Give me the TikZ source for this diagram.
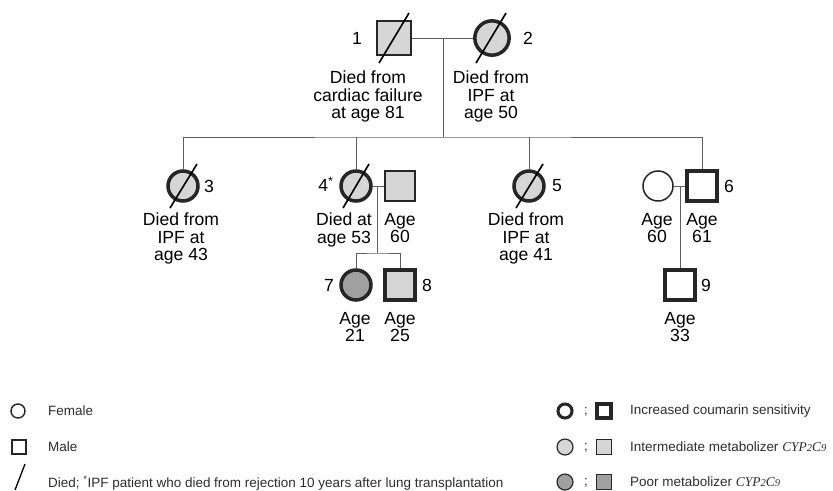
\documentclass[tikz,border=0pt]{standalone}
\usepackage{fontspec}
\setmainfont{Liberation Sans}
\newfontfamily\cypfont{Liberation Serif}
\definecolor{midgray}{RGB}{214,214,214}
\definecolor{poorgray}{RGB}{160,160,160}
\definecolor{relgray}{RGB}{95,95,95}
\definecolor{keygray}{RGB}{45,45,45}
\newcommand\cyp{{\cypfont\itshape CYP{\fontsize{9}{10}\selectfont 2}C{\fontsize{9}{10}\selectfont 9}}}
\begin{document}
\begin{tikzpicture}[x=0.03cm, y=-0.03cm,
    pers/.style={draw=black!85, line width=1.3pt, inner sep=0pt, minimum size=0.9cm},
    male/.style={pers, rectangle},
    female/.style={pers, circle},
    top/.style={minimum size=1.03cm},
    sens/.style={line width=3pt},
    mid/.style={fill=midgray},
    poor/.style={fill=poorgray},
    dead/.style={line width=1.4pt},
    rel/.style={draw=relgray, line width=0.6pt},
    num/.style={inner sep=0pt, font=\fontsize{15}{15}\selectfont},
    info/.style={align=center, anchor=north, inner sep=0pt, font=\fontsize{15}{14.8}\selectfont},
    key/.style={anchor=west, inner sep=0pt, text=keygray, font=\fontsize{11.5}{12}\selectfont}]

    \useasboundingbox (0,0) rectangle (833,490);

    % Generation I
    \node[male, top, mid] (n1) at (394,38) {};
    \node[female, top, mid, sens] (n2) at (492,38) {};
    \node[num] (l1) at (357,38) {1};
    \node[num] (l2) at (528,38) {2};
    \draw[dead] ([shift={(-15,25)}]n1.center) -- ([shift={(15,-25)}]n1.center);
    \draw[dead] ([shift={(-16,25)}]n2.center) -- ([shift={(14,-25)}]n2.center);
    \node[info] (t1) at (368,71) {Died from\\cardiac failure\\at age 81};
    \node[info] (t2) at (491,71) {Died from\\IPF at\\age 50};

    \coordinate (m12) at (443,38);
    \coordinate (s12) at (443,137);
    \draw[rel] (n1) -- (n2);
    \draw[rel] (m12) -- (s12);

    % Generation II
    \node[female, mid, sens] (n3) at (183,186) {};
    \node[female, mid, sens] (n4) at (356,186) {};
    \node[male, mid] (n4s) at (400,186) {};
    \node[female, mid, sens] (n5) at (529,186) {};
    \node[female] (n6s) at (658,186) {};
    \node[male, sens] (n6) at (702,186) {};
    \node[num] (l3) at (209,186) {3};
    \node[num] (l4) at (326,184) {4\textsuperscript{*}};
    \node[num] (l5) at (557,186) {5};
    \node[num] (l6) at (729,186) {6};
    \draw[dead] ([shift={(-13,22)}]n3.center) -- ([shift={(14,-22)}]n3.center);
    \draw[dead] ([shift={(-13,22)}]n4.center) -- ([shift={(13,-22)}]n4.center);
    \draw[dead] ([shift={(-13,22)}]n5.center) -- ([shift={(14,-22)}]n5.center);
    \node[info] (t3) at (181,213) {Died from\\IPF at\\age 43};
    \node[info] (t4) at (344,213) {Died at\\age 53};
    \node[info] (t4s) at (400,213) {Age\\60};
    \node[info] (t5) at (526,213) {Died from\\IPF at\\age 41};
    \node[info] (t6s) at (657,213) {Age\\60};
    \node[info] (t6) at (702,213) {Age\\61};

    \draw[rel] (n3.north) |- (s12) -| (n6.north);
    \draw[rel] (n4.north) -- (n4.north |- s12);
    \draw[rel] (n5.north) -- (n5.north |- s12);

    % Generation III
    \node[female, poor, sens] (n7) at (356,285) {};
    \node[male, mid, sens] (n8) at (400,285) {};
    \node[male, sens] (n9) at (680,285) {};
    \node[num] (l7) at (329,285) {7};
    \node[num] (l8) at (427,285) {8};
    \node[num] (l9) at (706,285) {9};
    \node[info] (t7) at (355,312) {Age\\21};
    \node[info] (t8) at (400,312) {Age\\25};
    \node[info] (t9) at (680,312) {Age\\33};

    \coordinate (m4) at (377,186);
    \coordinate (s4) at (377,253);
    \coordinate (m6) at (680,186);
    \draw[rel] (n4) -- (n4s);
    \draw[rel] (m4) -- (s4);
    \draw[rel] (n7.north) |- (s4) -| (n8.north);
    \draw[rel] (n6s) -- (n6);
    \draw[rel] (m6) -- (n9.north);

    % Key, left
    \node[female, line width=1.2pt, minimum size=0.42cm] (kf) at (18,411) {};
    \node[male, line width=1.2pt, minimum size=0.42cm] (km) at (19,447) {};
    \coordinate (kd1) at (15,490);
    \coordinate (kd2) at (25,464);
    \draw[dead, line width=1.1pt] (kd1) -- (kd2);
    \node[key] (kft) at (48,411) {Female};
    \node[key] (kmt) at (48,447) {Male};
    \node[key] (kdt) at (48,483) {Died; \textsuperscript{*}IPF patient who died from rejection 10 years after lung transplantation};

    % Key, right
    \node[female, sens, line width=2.6pt, minimum size=0.42cm] (ks1) at (565,411) {};
    \node[male, sens, line width=2.6pt, minimum size=0.42cm] (ks2) at (604,411) {};
    \node[female, mid, line width=1pt, minimum size=0.48cm] (ki1) at (565,447) {};
    \node[male, mid, line width=1pt, minimum size=0.46cm] (ki2) at (604,447) {};
    \node[female, poor, line width=1pt, minimum size=0.48cm] (kp1) at (565,482) {};
    \node[male, poor, line width=1pt, minimum size=0.46cm] (kp2) at (604,482) {};
    \node[key] (kss) at (584,412) {;};
    \node[key] (kis) at (584,448) {;};
    \node[key] (kps) at (584,483) {;};
    \node[key] (kst) at (630,411) {Increased coumarin sensitivity};
    \node[key] (kit) at (630,447) {Intermediate metabolizer \cyp};
    \node[key] (kpt) at (630,482) {Poor metabolizer \cyp};
\end{tikzpicture}
\end{document}
